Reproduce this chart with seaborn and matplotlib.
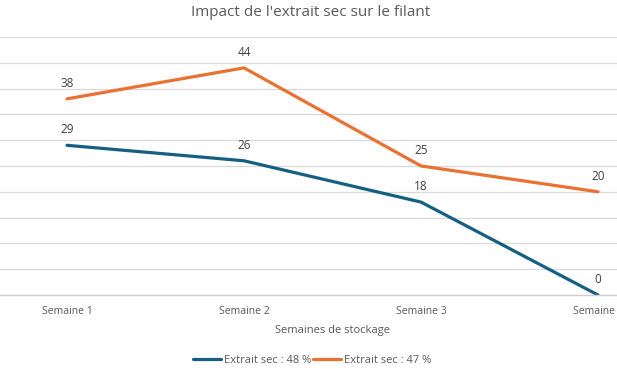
import pandas as pd
import seaborn as sns
import matplotlib.pyplot as plt

semaines = ["Semaine 1", "Semaine 2", "Semaine 3", "Semaine 4"]
serie_48 = [29, 26, 18, 0]
serie_47 = [38, 44, 25, 20]
noms = ["Extrait sec : 48 %", "Extrait sec : 47 %"]
couleurs = ["#156082", "#E97132"]

df = pd.DataFrame({
    "semaine": semaines * 2,
    "valeur": serie_48 + serie_47,
    "serie": [noms[0]] * 4 + [noms[1]] * 4,
})

sns.set_style("white")
plt.rcParams["font.family"] = ["Open Sans", "DejaVu Sans"]

fig = plt.figure(figsize=(6.17, 3.69), dpi=100)
# the reference is cropped: axes run past the figure edges
ax = fig.add_axes([-0.0348, 0.2005, 1.1475, 0.6995])

sns.lineplot(data=df, x="semaine", y="valeur", hue="serie",
             palette=couleurs, linewidth=2.3, ax=ax, legend=True)

ax.set_xlim(-0.5, 3.5)
ax.set_ylim(0, 50)
ax.set_yticks(range(0, 51, 5))
ax.set_yticklabels([])
ax.tick_params(axis="y", length=0)
ax.tick_params(axis="x", length=0, labelsize=7.5, labelcolor="#595959", pad=8)
ax.grid(axis="y", color="#d9d9d9", linewidth=0.9)
for s in ["top", "right", "left"]:
    ax.spines[s].set_visible(False)
ax.spines["bottom"].set_color("#d0d0d0")
ax.spines["bottom"].set_linewidth(1)

for vals in [serie_48, serie_47]:
    for i, v in enumerate(vals):
        ax.annotate(str(v), (i, v), xytext=(0, 6.5), textcoords="offset points",
                    ha="center", va="bottom", fontsize=8.5, color="#404040")

ax.set_xlabel("Semaines de stockage", fontsize=8, color="#595959", labelpad=6)
ax.set_ylabel("")
fig.text(0.503, 0.965, "Impact de l'extrait sec sur le filant", ha="center", va="center",
         fontsize=11, color="#595959")

ax.get_legend().remove()
h, l = ax.get_legend_handles_labels()
fig.legend(h, l, loc="center", bbox_to_anchor=(0.506, 0.022), ncol=2, frameon=False,
           fontsize=8, labelcolor="#595959", handlelength=2.5, columnspacing=0.1,
           handletextpad=0.3, borderpad=0.1)

fig.savefig("out.png", dpi=100)
